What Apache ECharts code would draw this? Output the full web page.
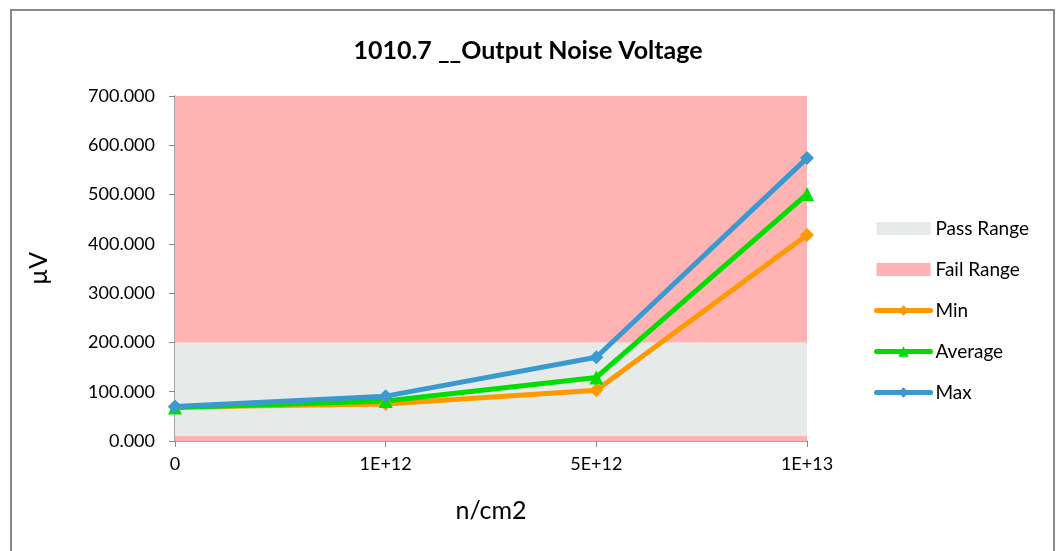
<!DOCTYPE html>
<html><head><meta charset="utf-8">
<script src="https://cdn.jsdelivr.net/npm/echarts@6/dist/echarts.min.js"></script>
<style>html,body{margin:0;padding:0;background:#fff}#c{width:1056px;height:551px}</style>
</head><body><div id="c"></div>
<script>
const categories = ['0', '1E+12', '5E+12', '1E+13'];
const failLow = [10, 10, 10, 10];
const passRange = [190, 190, 190, 190];
const failHigh = [500, 500, 500, 500];
const minVals = [69, 75, 103, 418];
const avgVals = [68, 81, 129, 501];
const maxVals = [70, 91, 170, 574];
const yTicks = [0, 100, 200, 300, 400, 500, 600, 700];

const FONT = 'Lato';
const chart = echarts.init(document.getElementById('c'));
const areaSeries = (name, data) => ({
  name, type: 'line', stack: 'range', data, symbol: 'none', silent: true,
  lineStyle: { width: 0, opacity: 0 }, z: 1,
  areaStyle: { color: name === 'Pass Range' ? '#E6EBEA' : '#FFB3B3', opacity: 1 },
  itemStyle: { color: name === 'Pass Range' ? '#E6EBEA' : '#FFB3B3' }
});
const lineSeries = (name, data, color, symbol, size) => ({
  name, type: 'line', data, symbol, symbolSize: size, z: 5,
  lineStyle: { width: 5, color }, itemStyle: { color }
});
const lineLegend = (name) => ({ name, lineStyle: { width: 5, cap: 'round' }, itemStyle: { borderWidth: 0 } });
chart.setOption({
  animation: false,
  textStyle: { fontFamily: FONT },
  graphic: [{ type: 'rect', shape: { x: 11, y: 10, width: 1043, height: 560 }, style: { fill: 'none', stroke: '#888', lineWidth: 2 }, silent: true }],
  title: { text: '1010.7 __Output Noise Voltage', left: 'center', top: 33,
    textStyle: { fontFamily: FONT, fontSize: 25, fontWeight: 'bold', color: '#000' } },
  grid: { left: 175, right: 249, top: 96, bottom: 110 },
  legend: {
    orient: 'vertical', left: 869, top: 214, itemWidth: 54, itemHeight: 13, itemGap: 22,
    textStyle: { fontFamily: FONT, fontSize: 19, color: '#000' },
    data: [
      { name: 'Pass Range', icon: 'rect' },
      { name: 'Fail Range', icon: 'rect' },
      lineLegend('Min'), lineLegend('Average'), lineLegend('Max')
    ]
  },
  xAxis: {
    type: 'category', data: categories, boundaryGap: false,
    name: 'n/cm2', nameLocation: 'middle', nameGap: 57,
    nameTextStyle: { fontFamily: FONT, fontSize: 25, color: '#000' },
    axisLine: { lineStyle: { color: '#888', width: 1.5 } },
    axisTick: { alignWithLabel: true, length: 6, lineStyle: { color: '#888' } },
    axisLabel: { fontFamily: FONT, fontSize: 18, color: '#000', margin: 14 }
  },
  yAxis: {
    type: 'value', min: 0, max: 700, interval: 100,
    name: 'µV', nameLocation: 'middle', nameGap: 124, nameRotate: 90,
    nameTextStyle: { fontFamily: FONT, fontSize: 25, color: '#000' },
    axisLine: { show: true, lineStyle: { color: '#888', width: 1.5 } },
    axisTick: { show: true, length: 6, lineStyle: { color: '#888' } },
    splitLine: { show: false },
    axisLabel: { fontFamily: FONT, fontSize: 18, color: '#000', margin: 20,
      formatter: v => yTicks.includes(v) ? v.toFixed(3) : '' }
  },
  series: [
    areaSeries('Fail Range', failLow),
    areaSeries('Pass Range', passRange),
    areaSeries('Fail Range', failHigh),
    lineSeries('Min', minVals, '#FF9900', 'diamond', 14),
    lineSeries('Average', avgVals, '#00DD00', 'triangle', 14),
    lineSeries('Max', maxVals, '#3A9AD0', 'diamond', 14)
  ]
});
</script></body></html>
